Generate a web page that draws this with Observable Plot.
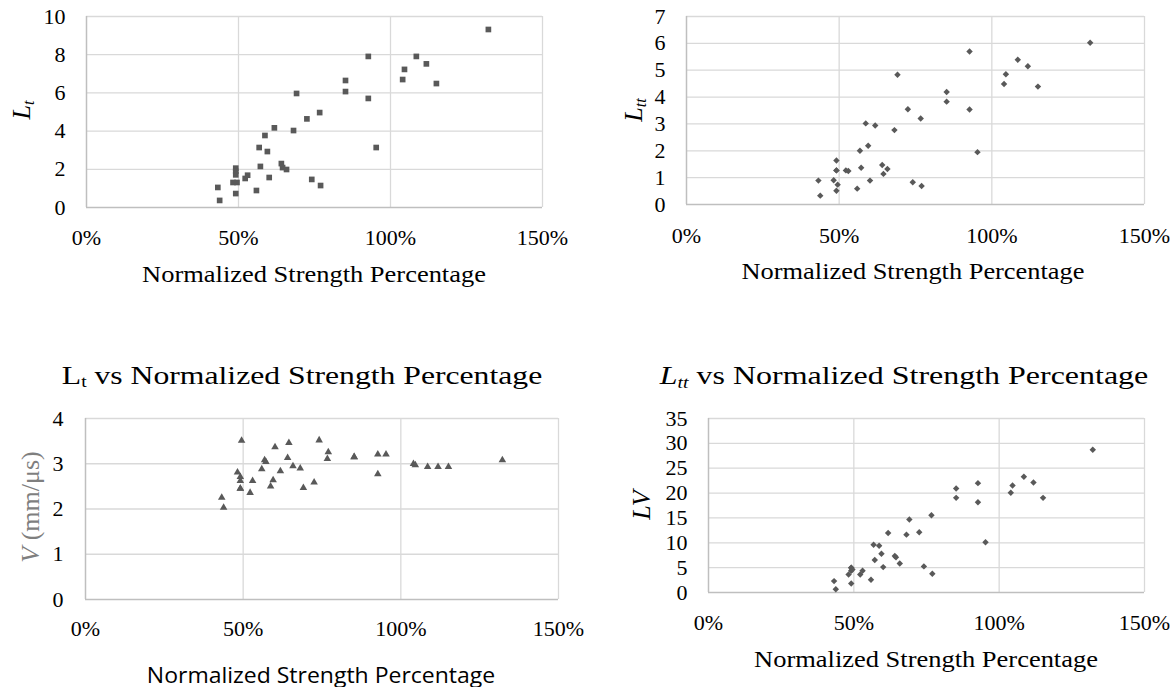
<!DOCTYPE html>
<html><head><meta charset="utf-8">
<script src="https://cdn.jsdelivr.net/npm/d3@7"></script>
<script src="https://cdn.jsdelivr.net/npm/@observablehq/plot@0.6"></script>
<style>
body{margin:0;background:#fff;}
#wrap{position:relative;width:1175px;height:687px;overflow:hidden;background:#fff;font-family:"Liberation Serif","Times New Roman",serif;}
.p{position:absolute;}
.t{position:absolute;white-space:nowrap;color:#000;line-height:1;font-family:"Liberation Serif","Times New Roman",serif;}
sub{font-size:62%;vertical-align:baseline;position:relative;top:0.22em;}
</style></head><body><div id="wrap"></div>
<script>
// Normalized strength percentage (%) shared by all four panels
const strength = [43.2,43.8,49.1,49.1,49.1,48.2,49.5,49.1,52.2,53.0,55.9,56.8,57.2,58.7,59.5,60.1,61.8,64.1,64.5,65.8,68.1,69.1,72.5,74.1,76.7,77.0,85.2,85.2,92.7,92.7,95.3,104.0,104.6,108.5,111.8,115.1,132.2];
const lt  = [1.05,0.37,2.06,1.90,1.71,1.31,1.31,0.73,1.52,1.69,0.89,3.14,2.15,3.77,2.93,1.57,4.17,2.30,2.09,1.99,4.03,5.97,4.64,1.47,4.97,1.15,6.65,6.07,7.91,5.71,3.14,6.70,7.23,7.91,7.52,6.49,9.32];
const ltt = [0.89,0.33,1.64,1.27,1.27,0.90,0.74,0.51,1.27,1.25,0.59,2.00,1.37,3.02,2.19,0.89,2.94,1.47,1.14,1.32,2.77,4.83,3.55,0.83,3.20,0.69,4.19,3.83,5.70,3.54,1.95,4.49,4.85,5.39,5.15,4.39,6.02];
const vel = [2.25,2.03,2.45,2.62,2.71,2.81,3.51,2.45,2.36,2.62,2.88,3.08,3.04,2.50,2.64,3.37,2.84,3.13,3.46,2.95,2.90,2.47,2.59,3.52,3.11,3.26,3.15,3.15,2.77,3.21,3.21,3.00,2.97,2.93,2.93,2.93,3.08];
const lv  = [2.29,0.67,4.98,4.98,4.37,3.63,4.64,1.82,3.63,4.37,2.56,9.62,6.53,9.42,7.81,5.11,11.98,7.34,7.07,5.85,11.64,14.67,12.11,5.25,15.55,3.77,20.93,19.04,22.0,18.17,10.09,20.05,21.53,23.28,22.14,19.04,28.73];
const xTicks = [0,50,100,150];
const ltTicks = [0,2,4,6,8,10];
const lttTicks = [0,1,2,3,4,5,6,7];
const vTicks = [0,1,2,3,4];
const lvTicks = [0,5,10,15,20,25,30,35];

const wrap = document.getElementById("wrap");

function panel(o){
  const data = strength.map((x,i)=>({x, y:o.values[i]}));
  const yMax = o.yTicks[o.yTicks.length-1];
  const svg = Plot.plot({
    width:o.width, height:o.height,
    marginLeft:o.m[0], marginRight:o.m[1], marginTop:o.m[2], marginBottom:o.m[3],
    style:{fontFamily:"'Liberation Serif', 'Times New Roman', serif", fontSize:"22px", color:"#000", background:"transparent", overflow:"visible"},
    x:{domain:[0,150], ticks:xTicks, tickFormat:d=>d+"%", label:null, tickSize:0, tickPadding:o.padX},
    y:{domain:[0,yMax], ticks:o.yTicks, tickFormat:d=>String(d), label:null, tickSize:0, tickPadding:o.padY},
    marks:[
      Plot.ruleX(xTicks.slice(1), {stroke:"#d9d9d9", strokeWidth:1.3}),
      Plot.ruleY(o.yTicks.slice(1), {stroke:"#d9d9d9", strokeWidth:1.3}),
      Plot.ruleX([0], {stroke:"#bfbfbf", strokeWidth:1.5}),
      Plot.ruleY([0], {stroke:"#bfbfbf", strokeWidth:1.5}),
      Plot.dot(data, {x:"x", y:"y", symbol:o.symbol, r:o.r, fill:"#595959", stroke:"none"})
    ]
  });
  svg.classList.add("p");
  svg.style.left = o.left+"px";
  svg.style.top = o.top+"px";
  wrap.appendChild(svg);
}

panel({values:lt, yTicks:ltTicks, symbol:"square", r:3.2, left:0, top:0, width:590, height:290, m:[86,48,16,83], padX:22, padY:21});
panel({values:ltt, yTicks:lttTicks, symbol:"diamond2", r:2.9, left:590, top:0, width:585, height:290, m:[96,31,16,86], padX:23, padY:21});
panel({values:vel, yTicks:vTicks, symbol:"triangle", r:2.8, left:0, top:330, width:590, height:357, m:[85,32,88,88], padX:21, padY:22});
panel({values:lv, yTicks:lvTicks, symbol:"diamond2", r:2.9, left:590, top:330, width:585, height:357, m:[118,31,88,95], padX:22, padY:21});

function label(html, cx, cy, size, opts={}){
  const d = document.createElement("div");
  d.className = "t";
  d.innerHTML = html;
  d.style.left = cx+"px";
  d.style.top = cy+"px";
  d.style.fontSize = size+"px";
  if (opts.font) d.style.fontFamily = opts.font;
  if (opts.color) d.style.color = opts.color;
  wrap.appendChild(d);
  if (opts.rotate) {
    d.style.transform = "translate(-50%,-50%) rotate(-90deg)";
  } else {
    const s = opts.width ? opts.width / d.offsetWidth : 1;
    d.style.transform = `translate(-50%,-50%) scale(${s},1)`;
  }
}

// axis titles
label("Normalized Strength Percentage", 314, 274, 24, {width:344});
label("Normalized Strength Percentage", 913, 271, 24, {width:343});
label("Normalized Strength Percentage", 321, 675, 21, {width:348, font:"'Open Sans', sans-serif"});
label("Normalized Strength Percentage", 926, 659, 24, {width:344});
// panel titles
label("L<sub style='top:0.18em'>t</sub> vs Normalized Strength Percentage", 302, 376, 26, {width:480});
label("<i>L<sub>tt</sub></i> vs Normalized Strength Percentage", 904, 376, 26, {width:488});
// y axis labels
label("<i>L<sub>t</sub></i>", 22, 110, 26, {rotate:true});
label("<i>L<sub>tt</sub></i>", 634, 110, 26, {rotate:true});
label("<i>V</i> (mm/μs)", 31, 507, 26, {rotate:true, color:"#7f7f7f"});
label("<i>LV</i>", 642, 505, 26, {rotate:true});
</script>
</body></html>
